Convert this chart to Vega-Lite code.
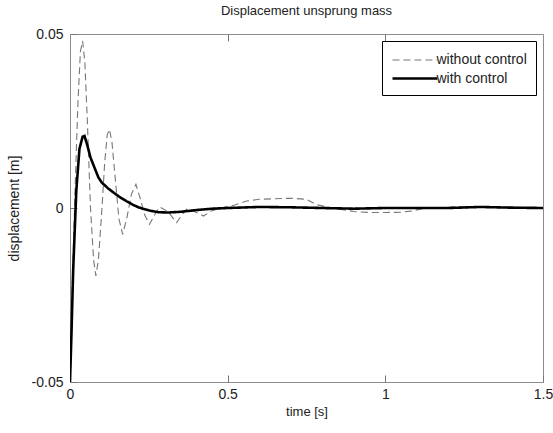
{
  "$schema": "https://vega.github.io/schema/vega-lite/v6.json",
  "width": 473,
  "height": 348,
  "autosize": {"type": "none"},
  "padding": {"left": 70, "top": 34, "right": 10, "bottom": 51},
  "background": "white",
  "config": {
    "view": {"stroke": "#8c8c8c", "strokeWidth": 1},
    "font": "Liberation Sans",
    "axis": {"domain": false, "grid": false, "ticks": true, "tickSize": 7, "offset": -7, "zindex": 1, "tickColor": "#777777", "tickWidth": 1, "labelColor": "#222222", "titleColor": "#222222", "labelFont": "Liberation Sans", "titleFont": "Liberation Sans", "titleFontWeight": "normal"},
    "legend": {"orient": "top-right", "offset": 7, "strokeColor": "#000000", "fillColor": "#ffffff", "padding": 9, "symbolType": "M-2.5,0H2.5", "symbolSize": 324, "symbolOffset": 13.5, "labelFontSize": 14, "labelColor": "#222222", "labelFont": "Liberation Sans", "rowPadding": 1, "labelOffset": 11, "cornerRadius": 0}
  },
  "title": {"text": "Displacement unsprung mass", "fontSize": 13, "fontWeight": "normal", "color": "#222222", "offset": 9, "font": "Liberation Sans"},
  "data": {"values": [
    {"t": 0, "v": -0.05, "series": "without control"},
    {"t": 0.008, "v": -0.02, "series": "without control"},
    {"t": 0.016, "v": 0.005, "series": "without control"},
    {"t": 0.025, "v": 0.03, "series": "without control"},
    {"t": 0.033, "v": 0.045, "series": "without control"},
    {"t": 0.04, "v": 0.048, "series": "without control"},
    {"t": 0.047, "v": 0.042, "series": "without control"},
    {"t": 0.055, "v": 0.025, "series": "without control"},
    {"t": 0.065, "v": 0.0, "series": "without control"},
    {"t": 0.075, "v": -0.015, "series": "without control"},
    {"t": 0.082, "v": -0.0195, "series": "without control"},
    {"t": 0.09, "v": -0.015, "series": "without control"},
    {"t": 0.1, "v": -0.002, "series": "without control"},
    {"t": 0.11, "v": 0.013, "series": "without control"},
    {"t": 0.118, "v": 0.021, "series": "without control"},
    {"t": 0.125, "v": 0.0226, "series": "without control"},
    {"t": 0.133, "v": 0.019, "series": "without control"},
    {"t": 0.145, "v": 0.007, "series": "without control"},
    {"t": 0.155, "v": -0.003, "series": "without control"},
    {"t": 0.167, "v": -0.0076, "series": "without control"},
    {"t": 0.18, "v": -0.003, "series": "without control"},
    {"t": 0.195, "v": 0.004, "series": "without control"},
    {"t": 0.209, "v": 0.0068, "series": "without control"},
    {"t": 0.222, "v": 0.003, "series": "without control"},
    {"t": 0.237, "v": -0.002, "series": "without control"},
    {"t": 0.252, "v": -0.0047, "series": "without control"},
    {"t": 0.268, "v": -0.002, "series": "without control"},
    {"t": 0.285, "v": 0.0003, "series": "without control"},
    {"t": 0.31, "v": -0.001, "series": "without control"},
    {"t": 0.338, "v": -0.0042, "series": "without control"},
    {"t": 0.355, "v": -0.002, "series": "without control"},
    {"t": 0.37, "v": -0.0003, "series": "without control"},
    {"t": 0.395, "v": -0.001, "series": "without control"},
    {"t": 0.423, "v": -0.0023, "series": "without control"},
    {"t": 0.45, "v": -0.0008, "series": "without control"},
    {"t": 0.48, "v": 0.0, "series": "without control"},
    {"t": 0.52, "v": 0.0008, "series": "without control"},
    {"t": 0.56, "v": 0.002, "series": "without control"},
    {"t": 0.6, "v": 0.0025, "series": "without control"},
    {"t": 0.7, "v": 0.0028, "series": "without control"},
    {"t": 0.75, "v": 0.0025, "series": "without control"},
    {"t": 0.78, "v": 0.001, "series": "without control"},
    {"t": 0.82, "v": 0.0002, "series": "without control"},
    {"t": 0.86, "v": -0.0004, "series": "without control"},
    {"t": 0.9, "v": -0.001, "series": "without control"},
    {"t": 0.95, "v": -0.0013, "series": "without control"},
    {"t": 1.0, "v": -0.0013, "series": "without control"},
    {"t": 1.05, "v": -0.0012, "series": "without control"},
    {"t": 1.08, "v": -0.0009, "series": "without control"},
    {"t": 1.12, "v": -0.0002, "series": "without control"},
    {"t": 1.2, "v": 0.0002, "series": "without control"},
    {"t": 1.3, "v": 0.0004, "series": "without control"},
    {"t": 1.4, "v": 0.0002, "series": "without control"},
    {"t": 1.5, "v": 0.0001, "series": "without control"},
    {"t": 0, "v": -0.05, "series": "with control"},
    {"t": 0.005, "v": -0.035, "series": "with control"},
    {"t": 0.01, "v": -0.018, "series": "with control"},
    {"t": 0.02, "v": 0.005, "series": "with control"},
    {"t": 0.03, "v": 0.017, "series": "with control"},
    {"t": 0.04, "v": 0.0205, "series": "with control"},
    {"t": 0.046, "v": 0.0207, "series": "with control"},
    {"t": 0.055, "v": 0.018, "series": "with control"},
    {"t": 0.065, "v": 0.0145, "series": "with control"},
    {"t": 0.075, "v": 0.0122, "series": "with control"},
    {"t": 0.09, "v": 0.0088, "series": "with control"},
    {"t": 0.1, "v": 0.0074, "series": "with control"},
    {"t": 0.12, "v": 0.0057, "series": "with control"},
    {"t": 0.14, "v": 0.0043, "series": "with control"},
    {"t": 0.16, "v": 0.003, "series": "with control"},
    {"t": 0.18, "v": 0.0019, "series": "with control"},
    {"t": 0.2, "v": 0.0009, "series": "with control"},
    {"t": 0.22, "v": 0.0001, "series": "with control"},
    {"t": 0.25, "v": -0.0007, "series": "with control"},
    {"t": 0.28, "v": -0.0012, "series": "with control"},
    {"t": 0.31, "v": -0.0013, "series": "with control"},
    {"t": 0.35, "v": -0.0011, "series": "with control"},
    {"t": 0.4, "v": -0.0006, "series": "with control"},
    {"t": 0.45, "v": -0.0002, "series": "with control"},
    {"t": 0.5, "v": 0.0, "series": "with control"},
    {"t": 0.6, "v": 0.0003, "series": "with control"},
    {"t": 0.7, "v": 0.0002, "series": "with control"},
    {"t": 0.8, "v": 0.0, "series": "with control"},
    {"t": 0.9, "v": -0.0002, "series": "with control"},
    {"t": 1.0, "v": 0.0, "series": "with control"},
    {"t": 1.1, "v": 0.0, "series": "with control"},
    {"t": 1.2, "v": 0.0, "series": "with control"},
    {"t": 1.3, "v": 0.0003, "series": "with control"},
    {"t": 1.4, "v": 0.0001, "series": "with control"},
    {"t": 1.5, "v": 0.0, "series": "with control"}
  ]},
  "layer": [
    {
      "mark": {"type": "line", "clip": true},
      "encoding": {
        "x": {"field": "t", "type": "quantitative", "scale": {"domain": [0, 1.5], "nice": false, "zero": false},
              "axis": {"orient": "bottom", "values": [0, 0.5, 1, 1.5], "format": ".1~f", "title": "time [s]", "labelPadding": 5, "labelFontSize": 14, "titleFontSize": 13, "titlePadding": 4, "labelFlush": false, "labelOverlap": false, "labelBound": false}},
        "y": {"field": "v", "type": "quantitative", "scale": {"domain": [-0.05, 0.05], "nice": false, "zero": false},
              "axis": {"orient": "left", "values": [-0.05, 0, 0.05], "labelExpr": "datum.value < -0.01 ? '-0.05' : (datum.value > 0.01 ? '0.05' : '0')", "title": "displacement [m]", "labelPadding": 7, "labelFontSize": 14, "titleFontSize": 14, "titlePadding": 10, "labelFlush": false, "labelOverlap": false, "labelBound": false}},
        "color": {"field": "series", "type": "nominal", "scale": {"domain": ["without control", "with control"], "range": ["#777777", "#000000"]}, "legend": {"title": null}},
        "strokeDash": {"field": "series", "type": "nominal", "scale": {"domain": ["without control", "with control"], "range": [[7, 4], [1, 0]]}, "legend": {"title": null}},
        "strokeWidth": {"field": "series", "type": "nominal", "scale": {"domain": ["without control", "with control"], "range": [1.1, 2.6]}, "legend": {"title": null}}
      }
    },
    {
      "mark": {"type": "line", "opacity": 0},
      "encoding": {
        "x": {"field": "t", "type": "quantitative", "axis": {"orient": "top", "values": [0.5, 1], "labels": false, "title": null}},
        "y": {"field": "v", "type": "quantitative", "axis": {"orient": "right", "values": [0], "labels": false, "title": null}}
      }
    }
  ],
  "resolve": {"axis": {"x": "independent", "y": "independent"}}
}
